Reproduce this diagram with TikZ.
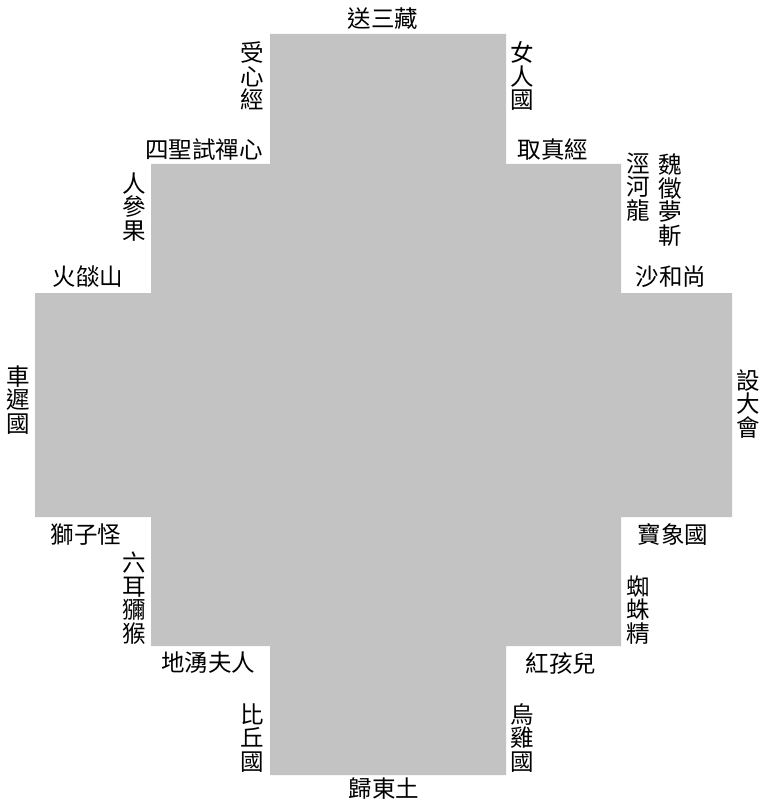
\documentclass[tikz,border=0pt]{standalone}
\usepackage{fontspec}
\newfontfamily\cjk{Noto Sans CJK TC}
\definecolor{crossgray}{RGB}{195,195,195}
\tikzset{
  lbl/.style={inner sep=0pt, font=\cjk\fontsize{23.5}{23.5}\selectfont, text=black},
  vlbl/.style={lbl, align=center},
}
\begin{document}
\begin{tikzpicture}[x=1pt,y=-1pt]
\useasboundingbox (0,0) rectangle (763,810);
\fill[crossgray] (270,34) -- (506,34) -- (506,164) -- (621,164) -- (621,293) -- (732,293)
  -- (732,517) -- (621,517) -- (621,646) -- (506,646) -- (506,775) -- (270,775)
  -- (270,646) -- (151,646) -- (151,517) -- (35,517) -- (35,293) -- (151,293)
  -- (151,164) -- (270,164) -- cycle;
\node[lbl] (top) at (383,19) {送三藏};
\node[lbl] (bottom) at (384,789) {歸東土};
\node[vlbl] (sxj) at (252,76) {受\\心\\經};
\node[vlbl] (nrg) at (522,76) {女\\人\\國};
\node[lbl, anchor=east] (ssx) at (263,150) {四聖試禪心};
\node[lbl] (qzj) at (553,150) {取真經};
\node[vlbl] (rsg) at (134,207) {人\\參\\果};
\node[lbl] (hys) at (88,277) {火燄山};
\node[vlbl] (jhl) at (638,187) {涇\\河\\龍};
\node[vlbl] (wzm) at (670,200) {魏\\徵\\夢\\斬};
\node[lbl] (shs) at (671,277) {沙和尚};
\node[vlbl] (ccg) at (18,400) {車\\遲\\國};
\node[vlbl] (sdh) at (748,404) {設\\大\\會};
\node[lbl] (szg) at (86,535) {獅子怪};
\node[vlbl] (lem) at (134,598) {六\\耳\\獼\\猴};
\node[lbl] (dyf) at (208,663) {地湧夫人};
\node[lbl] (bxg) at (673,535) {寶象國};
\node[vlbl] (zzj) at (638,610) {蜘\\蛛\\精};
\node[lbl] (hhe) at (561,664) {紅孩兒};
\node[vlbl] (bqg) at (252,738) {比\\丘\\國};
\node[vlbl] (wjg) at (522,738) {烏\\雞\\國};
\end{tikzpicture}
\end{document}
